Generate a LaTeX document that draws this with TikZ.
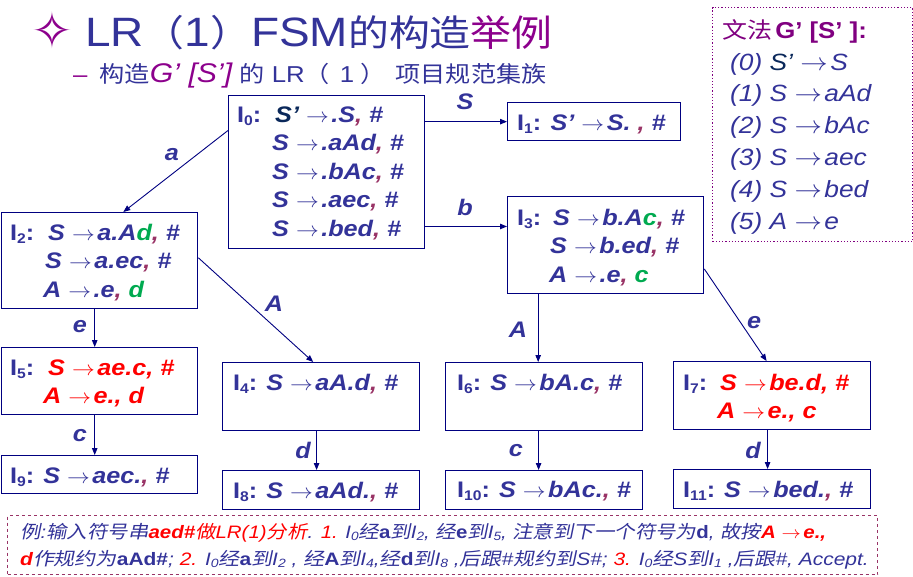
\documentclass[tikz,border=0pt]{standalone}
\usepackage{fontspec}
\setmainfont{Liberation Sans}[FakeStretch=1.12]
\newfontfamily\cjk{Noto Sans CJK SC}[FakeStretch=1.12]
\newfontfamily\cjki{Noto Sans CJK SC}[FakeStretch=1.12,FakeSlant=0.2]
\newfontfamily\djv{DejaVu Sans}
\usetikzlibrary{arrows.meta,calc}
\definecolor{myblue}{RGB}{51,51,153}
\definecolor{tpurple}{RGB}{140,0,140}
\definecolor{gpurple}{RGB}{128,0,128}
\definecolor{cm}{RGB}{153,51,102}
\definecolor{gn}{RGB}{0,170,80}
\definecolor{navy}{RGB}{0,0,128}
\definecolor{dnavy}{RGB}{10,40,90}
\definecolor{bxline}{RGB}{153,51,102}
\newcommand\arr{\ \scalebox{1.1}[1]{$\rightarrow$}\kern2.5pt}
\newcommand\cma{{\color{cm},}}
\newcommand\gr[1]{{\color{gn}#1}}
\newcommand\up[1]{{\upshape\bfseries #1}}
\newcommand\isub[1]{\raisebox{-0.3ex}{\fontsize{14}{14}\selectfont #1}}
\newcommand\isubs[1]{\raisebox{-0.3ex}{\fontsize{12}{12}\selectfont #1}}
\newcommand\bxf{\fontsize{22.5}{28.5}\selectfont\bfseries\itshape}
\newcommand\gf{\fontsize{23.5}{31.8}\selectfont\itshape}
\newcommand\btf{\fontsize{18}{27}\selectfont\itshape}
\newcommand\tcjk{\cjk\fontsize{36.5}{40}\selectfont}
\newcommand\scjk{\cjk\fontsize{22.5}{26}\selectfont}
\begin{document}
\begin{tikzpicture}[x=1pt,y=-1pt,
  box/.style={draw=navy, line width=1.3pt, anchor=north west, inner sep=0pt},
  txt/.style={anchor=base west, inner sep=0pt, font=\bxf, text=myblue},
  lbl/.style={anchor=center, inner sep=0pt, font=\bxf, text=myblue},
  edge/.style={draw=navy, line width=0.9pt, -{Triangle[length=7pt,width=5.5pt]}}
]
\useasboundingbox (0,0) rectangle (913,576);

% title
\node[text=tpurple, font=\djv\fontsize{50}{50}\selectfont, inner sep=0pt] (dia) at (52,30) {✧};
\node[anchor=base west, inner sep=0pt, text=myblue, font=\fontsize{41}{41}\selectfont] (title) at (85,46)
  {LR{\tcjk （}1{\tcjk ）}FSM{\tcjk 的构造}{\tcjk\color{tpurple}举例}};
\node[anchor=base west, inner sep=0pt, text=myblue, font=\fontsize{23}{26}\selectfont] (sub) at (73,82)
  {{\color{tpurple}–}\hspace{12pt}{\scjk 构造}{\color{tpurple}\itshape\fontsize{27}{27}\selectfont G’ [S’]} {\scjk 的} LR{\scjk （}\kern10pt 1\kern6pt{\scjk ）}\kern10pt{\scjk 项目规范集族}};

% boxes
\node[box, minimum width=196pt, minimum height=153pt] (I0) at (228,95) {};
\node[box, minimum width=173pt, minimum height=38pt] (I1) at (507,102) {};
\node[box, minimum width=196pt, minimum height=96pt] (I2) at (1,212) {};
\node[box, minimum width=196pt, minimum height=97pt] (I3) at (507,196) {};
\node[box, minimum width=197pt, minimum height=68pt] (I4) at (222,362) {};
\node[box, minimum width=196pt, minimum height=67pt] (I5) at (1,347) {};
\node[box, minimum width=197pt, minimum height=68pt] (I6) at (445,362) {};
\node[box, minimum width=197pt, minimum height=68pt] (I7) at (673,361) {};
\node[box, minimum width=197pt, minimum height=39pt] (I8) at (222,470) {};
\node[box, minimum width=196pt, minimum height=38pt] (I9) at (1,455) {};
\node[box, minimum width=197pt, minimum height=39pt] (I10) at (445,470) {};
\node[box, minimum width=197pt, minimum height=39pt] (I11) at (673,469) {};
\node[draw=gpurple, dotted, line width=1.2pt, anchor=north west, inner sep=0pt,
  minimum width=200pt, minimum height=234pt] (G) at (712,7) {};
\node[draw=bxline, dashed, line width=1pt, anchor=north west, inner sep=0pt,
  minimum width=870pt, minimum height=59pt] (N) at (7,515) {};

% box texts
\node[txt] (I0l) at (237,122) {\upshape I\isub{0}:};
\node[txt] (I0t) at (272,122) {\begin{tabular}[t]{@{}l@{}}
\hspace{3pt}{\color{dnavy}S’}\arr .S\cma\ \#\\
S\arr .aAd\cma\ \#\\
S\arr .bAc\cma\ \#\\
S\arr .aec\cma\ \#\\
S\arr .bed\cma\ \#
\end{tabular}};
\node[txt] (I1t) at (517,130) {{\upshape I\isub{1}:} S’\arr S. \cma\ \#};
\node[txt] (I2l) at (10,240) {\upshape I\isub{2}:};
\node[txt] (I2t) at (43,240) {\begin{tabular}[t]{@{}l@{}}
\hspace{5pt}S\arr a.A\gr{d}\cma\ \#\\
\hspace{2pt}S\arr a.ec\cma\ \#\\
A\arr .e\cma\ \gr{d}
\end{tabular}};
\node[txt] (I3l) at (517,225) {\upshape I\isub{3}:};
\node[txt] (I3t) at (549,225) {\begin{tabular}[t]{@{}l@{}}
\hspace{4pt}S\arr b.A\gr{c}\cma\ \#\\
\hspace{1pt}S\arr b.ed\cma\ \#\\
A\arr .e\cma\ \gr{c}
\end{tabular}};
\node[txt] (I5l) at (10,375) {\upshape I\isub{5}:};
\node[txt, text=red] (I5t) at (43,375) {\begin{tabular}[t]{@{}l@{}}
\hspace{5pt}S\arr ae.c, \#\\
A\arr e., d
\end{tabular}};
\node[txt] (I9t) at (10,483) {{\upshape I\isub{9}:}\hspace{9pt}S\arr aec.\cma\ \#};
\node[txt] (I4t) at (233,390) {{\upshape I\isub{4}:}\hspace{9pt}S\arr aA.d\cma\ \#};
\node[txt] (I8t) at (233,498) {{\upshape I\isub{8}:}\hspace{9pt}S\arr aAd.\cma\ \#};
\node[txt] (I6t) at (457,390) {{\upshape I\isub{6}:}\hspace{9pt}S\arr bA.c\cma\ \#};
\node[txt] (I10t) at (457,497) {{\upshape I\isub{10}:}\hspace{9pt}S\arr bAc.\cma\ \#};
\node[txt] (I7l) at (683,390) {\upshape I\isub{7}:};
\node[txt, text=red] (I7t) at (717,390) {\begin{tabular}[t]{@{}l@{}}
\hspace{3pt}S\arr be.d, \#\\
A\arr e., c
\end{tabular}};
\node[txt] (I11t) at (683,497) {{\upshape I\isub{11}:}\hspace{9pt}S\arr bed.\cma\ \#};

% grammar
\node[anchor=base west, inner sep=0pt, text=gpurple] (Gh) at (722,38)
  {{\cjk\fontsize{22.3}{24}\selectfont 文法} {\fontsize{23}{24}\selectfont\bfseries G’ [S’ ]:}};
\node[anchor=base west, inner sep=0pt, font=\gf, text=myblue] (Gt) at (730,70) {\begin{tabular}[t]{@{}l@{}}
(0) {\color{dnavy}S’}\arr S\\
(1) S\arr aAd\\
(2) S\arr bAc\\
(3) S\arr aec\\
(4) S\arr bed\\
(5) A\arr e
\end{tabular}};

% note
\node[anchor=base west, inner sep=0pt, font=\btf, text=myblue] (Nt) at (20,538) {\begin{tabular}[t]{@{}l@{}}
\scalebox{1.014}[1]{{\cjki 例}:{\cjki 输入符号串}{\color{red}\bfseries aed\#}{\color{red}{\cjki 做}LR(1){\cjki 分析}}. {\color{red}1.} I\isubs{0}{\cjki 经}\up{a}{\cjki 到}I\isubs{2}, {\cjki 经}\up{e}{\cjki 到}I\isubs{5}, {\cjki 注意到下一个符号为}\up{d}, {\cjki 故按}{\color{red}\bfseries A\arr e.,}}\\
\scalebox{1.04}[1]{{\color{red}\bfseries d}{\cjki 作规约为}\up{aAd\#}; {\color{red}2.} I\isubs{0}{\cjki 经}\up{a}{\cjki 到}I\isubs{2} , {\cjki 经}\up{A}{\cjki 到}I\isubs{4},{\cjki 经}\up{d}{\cjki 到}I\isubs{8} ,{\cjki 后跟}\#{\cjki 规约到}S\#; {\color{red}3.} I\isubs{0}{\cjki 经}S{\cjki 到}I\isubs{1} ,{\cjki 后跟}\#, Accept.}
\end{tabular}};

% edges
\coordinate (p02) at ($(I0.north west)!0.23!(I0.south west)$);
\coordinate (q02) at ($(I2.north west)!0.62!(I2.north east)$);
\coordinate (p03) at ($(I3.north west)!0.31!(I3.south west)$);
\coordinate (p24) at ($(I2.north east)!0.47!(I2.south east)$);
\coordinate (q24) at ($(I4.north west)!0.46!(I4.north east)$);
\coordinate (p25) at ($(I2.south west)!0.475!(I2.south east)$);
\coordinate (p48) at ($(I4.south west)!0.477!(I4.south east)$);
\coordinate (p36) at ($(I3.south west)!0.158!(I3.south east)$);
\coordinate (p37) at ($(I3.north east)!0.742!(I3.south east)$);
\coordinate (q37) at ($(I7.north west)!0.472!(I7.north east)$);
\coordinate (p610) at ($(I6.south west)!0.472!(I6.south east)$);
\coordinate (p711) at ($(I7.south west)!0.477!(I7.south east)$);
\draw[edge] (I0.east |- I1.west) -- (I1.west);
\draw[edge] (I0.east |- p03) -- (p03);
\draw[edge] (p02) -- (q02);
\draw[edge] (p25) -- (p25 |- I5.north);
\draw[edge] (p24) -- (q24);
\draw[edge] (I5.south -| p25) -- (I9.north -| p25);
\draw[edge] (p48) -- (p48 |- I8.north);
\draw[edge] (p36) -- (p36 |- I6.north);
\draw[edge] (p37) -- (q37);
\draw[edge] (p610) -- (p610 |- I10.north);
\draw[edge] (p711) -- (p711 |- I11.north);

% edge labels
\node[lbl] (lS) at (465,102) {S};
\node[lbl] (lb) at (465,207) {b};
\node[lbl] (la) at (172,155) {a};
\node[lbl] (le1) at (80,327) {e};
\node[lbl] (lA1) at (274,304) {A};
\node[lbl] (lc1) at (80,436) {c};
\node[lbl] (ld1) at (303,450) {d};
\node[lbl] (lA2) at (518,330) {A};
\node[lbl] (le2) at (754,323) {e};
\node[lbl] (lc2) at (516,451) {c};
\node[lbl] (ld2) at (753,450) {d};
\end{tikzpicture}
\end{document}
